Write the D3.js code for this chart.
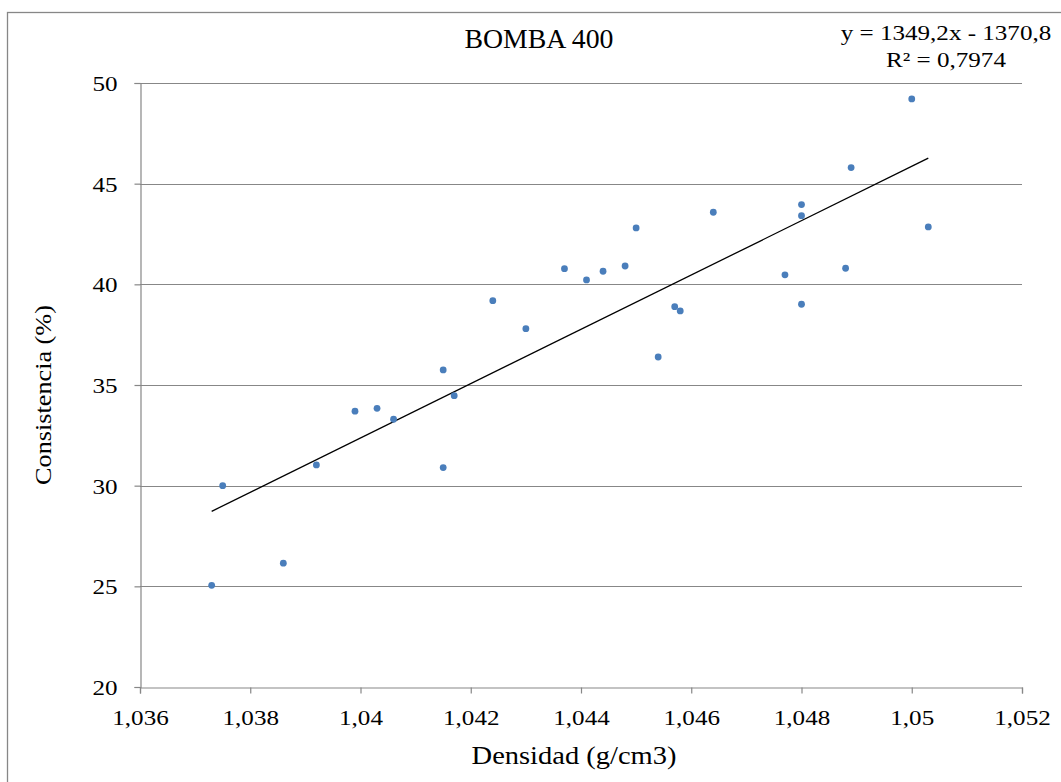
<!DOCTYPE html>
<html>
<head>
<meta charset="utf-8">
<script src="https://cdn.jsdelivr.net/npm/d3@7"></script>
<style>
  body { margin: 0; background: #fff; }
  text { font-family: "Liberation Serif", "Times New Roman", serif; fill: #000; }
</style>
</head>
<body>
<svg id="chart" width="1061" height="782"></svg>
<script>
// Density (g/cm3) and consistency (%) samples for pump 400
const densidad = [
  1.0373, 1.0375, 1.0386, 1.0392, 1.0399, 1.0403, 1.0406, 1.0415, 1.0415, 1.0417,
  1.0424, 1.0430, 1.0437, 1.0441, 1.0444, 1.0448, 1.0450, 1.0454, 1.0457, 1.0458,
  1.0464, 1.0477, 1.0480, 1.0480, 1.0480, 1.0488, 1.0489, 1.0500, 1.0503
];
const consistencia = [
  25.05, 30.00, 26.15, 31.03, 33.70, 33.84, 33.30, 35.75, 30.90, 34.47,
  39.19, 37.80, 40.78, 40.22, 40.65, 40.91, 42.80, 36.39, 38.89, 38.68,
  43.58, 40.47, 43.96, 43.41, 39.01, 40.80, 45.80, 49.21, 42.85
];

const xTicks = [1.036, 1.038, 1.040, 1.042, 1.044, 1.046, 1.048, 1.050, 1.052];
const xTickLabels = ["1,036", "1,038", "1,04", "1,042", "1,044", "1,046", "1,048", "1,05", "1,052"];
const yTicks = [20, 25, 30, 35, 40, 45, 50];
const yTickLabels = ["20", "25", "30", "35", "40", "45", "50"];

// Linear trendline y = a·x + b
const slope = 1349.2;
const intercept = -1370.8;
const rSquared = "0,7974";

const svg = d3.select("#chart");
const W = 1061, H = 782;
const plot = { left: 140, right: 1022, top: 83, bottom: 687 };
const stretch = 1.14;   // horizontal widening of the label glyphs

const x = d3.scaleLinear().domain([1.036, 1.052]).range([plot.left, plot.right]);
const y = d3.scaleLinear().domain([20, 50]).range([plot.bottom, plot.top]);

const gridColor = "#878787";

// outer chart frame
svg.append("rect")
  .attr("x", 7.5).attr("y", 12.5)
  .attr("width", W).attr("height", H)
  .attr("fill", "none").attr("stroke", gridColor).attr("stroke-width", 1.3);

// horizontal gridlines
svg.append("g").selectAll("line")
  .data(yTicks.filter(v => v !== 20))
  .join("line")
  .attr("x1", plot.left).attr("x2", plot.right)
  .attr("y1", d => Math.round(y(d)) + 0.5).attr("y2", d => Math.round(y(d)) + 0.5)
  .attr("stroke", gridColor).attr("stroke-width", 1.2);

// y axis
const yAxis = svg.append("g")
  .attr("transform", `translate(${plot.left + 0.5},0)`)
  .call(d3.axisLeft(y).tickValues(yTicks).tickSize(6).tickPadding(0)
    .tickFormat((d, i) => yTickLabels[i]));
yAxis.select(".domain").attr("stroke", gridColor).attr("stroke-width", 1.2);
yAxis.selectAll(".tick line").attr("stroke", gridColor).attr("stroke-width", 1.2);
yAxis.selectAll(".tick text")
  .attr("x", null).attr("dy", null)
  .attr("font-size", 22)
  .attr("text-anchor", "end")
  .attr("dominant-baseline", "central")
  .attr("transform", `translate(-23,0) scale(${stretch},1)`);

// x axis
const xAxis = svg.append("g")
  .attr("transform", `translate(0,${plot.bottom + 0.5})`)
  .call(d3.axisBottom(x).tickValues(xTicks).tickSize(6).tickPadding(0)
    .tickFormat((d, i) => xTickLabels[i]));
xAxis.select(".domain").attr("stroke", gridColor).attr("stroke-width", 1.2);
xAxis.selectAll(".tick line").attr("stroke", gridColor).attr("stroke-width", 1.2);
xAxis.selectAll(".tick text")
  .attr("y", null).attr("dy", null)
  .attr("font-size", 22)
  .attr("text-anchor", "middle")
  .attr("transform", `translate(0,37) scale(${stretch},1)`);

// trendline over the range of the measured densities
const [xMin, xMax] = d3.extent(densidad);
svg.append("line")
  .attr("x1", x(xMin)).attr("y1", y(slope * xMin + intercept))
  .attr("x2", x(xMax)).attr("y2", y(slope * xMax + intercept))
  .attr("stroke", "#000").attr("stroke-width", 1.3);

// data points
svg.append("g").selectAll("circle")
  .data(densidad.map((d, i) => [d, consistencia[i]]))
  .join("circle")
  .attr("cx", d => x(d[0]))
  .attr("cy", d => y(d[1]))
  .attr("r", 3.4)
  .attr("fill", "#4a7ebb");

// title
svg.append("text")
  .attr("transform", `translate(539,48) scale(1.03,1)`)
  .attr("text-anchor", "middle")
  .attr("font-size", 27)
  .text("BOMBA 400");

// trendline equation
const fmt = v => String(Math.abs(v)).replace(".", ",");
const eq = svg.append("g").attr("transform", "translate(946,0)");
eq.append("text")
  .attr("transform", `translate(0,40) scale(${stretch},1)`)
  .attr("text-anchor", "middle").attr("font-size", 22)
  .text(`y = ${fmt(slope)}x ${intercept < 0 ? "-" : "+"} ${fmt(intercept)}`);
eq.append("text")
  .attr("transform", `translate(0,67) scale(${stretch},1)`)
  .attr("text-anchor", "middle").attr("font-size", 22)
  .text(`R² = ${rSquared}`);

// axis titles
svg.append("text")
  .attr("transform", `translate(574,764) scale(${stretch},1)`)
  .attr("text-anchor", "middle").attr("font-size", 25)
  .text("Densidad (g/cm3)");

svg.append("text")
  .attr("transform", `translate(51,395) rotate(-90) scale(${stretch},1)`)
  .attr("text-anchor", "middle").attr("font-size", 23)
  .text("Consistencia (%)");
</script>
</body>
</html>
